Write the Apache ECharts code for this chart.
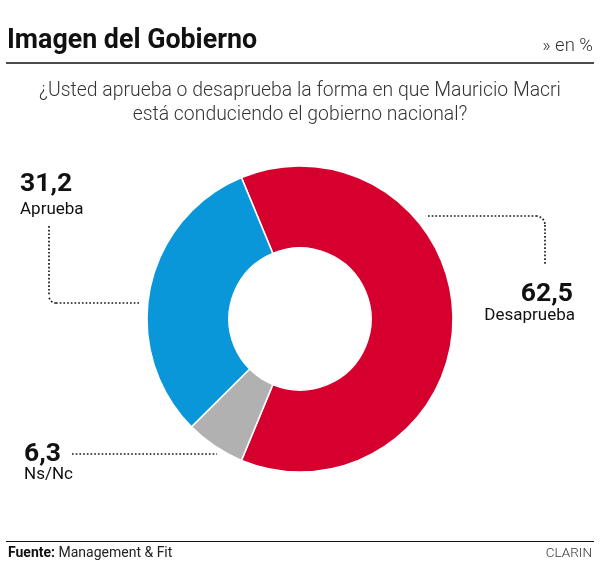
<!DOCTYPE html>
<html><head><meta charset="utf-8">
<script src="https://cdn.jsdelivr.net/npm/echarts@6/dist/echarts.min.js"></script>
<style>html,body{margin:0;padding:0;background:#fff}#c{width:600px;height:577px}</style>
</head><body><div id="c"></div>
<script>
const categories = ['Desaprueba', 'Ns/Nc', 'Aprueba'];
const values = [62.5, 6.3, 31.2];
const colors = ['#d6002f', '#b1b1b1', '#0a97d9'];

const fmt = v => v.toFixed(1).replace('.', ',');
const F = 'Roboto, "Noto Sans", sans-serif';
const FL = '"Roboto Light", Roboto, "Noto Sans", sans-serif';
const dot = {stroke: '#1a1a1a', lineWidth: 1.7, lineDash: [1.7, 2.0], fill: null};
const T = (x, y, text, font, extra) => ({type: 'text', x: x, y: y, style: Object.assign({text: text, font: font, fill: '#111', verticalAlign: 'top'}, extra || {})});

const chart = echarts.init(document.getElementById('c'), null, {renderer: 'canvas'});
chart.setOption({
  animation: false,
  backgroundColor: '#fff',
  series: [{
    type: 'pie',
    center: [300, 319],
    radius: [71, 153],
    startAngle: 112.5,
    clockwise: true,
    label: {show: false},
    labelLine: {show: false},
    itemStyle: {borderColor: '#fff', borderWidth: 1.5},
    data: categories.map((c, i) => ({name: c, value: values[i], itemStyle: {color: colors[i]}}))
  }],
  graphic: [
    T(7, 28, 'Imagen del Gobierno', 'bold 26.8px ' + F),
    T(593, 36, '» en %', '300 18.5px ' + FL, {fill: '#333', align: 'right'}),
    {type: 'line', shape: {x1: 6, y1: 63, x2: 594, y2: 63}, style: {stroke: '#111', lineWidth: 1.5}},
    T(300, 78, '¿Usted aprueba o desaprueba la forma en que Mauricio Macri\nestá conduciendo el gobierno nacional?', '300 19.4px ' + FL, {fill: '#333', align: 'center', lineHeight: 24}),

    T(20, 171, fmt(values[2]), 'bold 26.5px ' + F),
    T(20, 201, categories[2], '17px ' + F),
    {type: 'polyline', shape: {points: [[49, 226], [49, 296]]}, style: dot},
    {type: 'arc', shape: {cx: 56, cy: 296, r: 7, startAngle: Math.PI / 2, endAngle: Math.PI, clockwise: true}, style: dot},
    {type: 'polyline', shape: {points: [[56, 303], [139, 303]]}, style: dot},

    T(573, 281, fmt(values[0]), 'bold 26.5px ' + F, {align: 'right'}),
    T(575, 307, categories[0], '17px ' + F, {align: 'right'}),
    {type: 'polyline', shape: {points: [[428, 216], [536, 216]]}, style: dot},
    {type: 'arc', shape: {cx: 536, cy: 225, r: 9, startAngle: -Math.PI / 2, endAngle: 0, clockwise: true}, style: dot},
    {type: 'polyline', shape: {points: [[545, 225], [545, 265]]}, style: dot},

    T(24, 441, fmt(values[1]), 'bold 26.5px ' + F),
    T(24, 466, categories[1], '17px ' + F),
    {type: 'line', shape: {x1: 72, y1: 454, x2: 217, y2: 454}, style: dot},

    {type: 'line', shape: {x1: 6, y1: 541.5, x2: 594, y2: 541.5}, style: {stroke: '#111', lineWidth: 1.2}},
    {type: 'text', x: 8, y: 546, style: {verticalAlign: 'top', rich: {b: {font: 'bold 14px ' + F, fill: '#111'}, n: {font: '14px ' + F, fill: '#222'}}, text: '{b|Fuente:}{n| Management & Fit}'}},
    T(592, 546, 'CLARIN', '300 13.5px ' + FL, {fill: '#333', align: 'right'})
  ]
});
</script></body></html>
